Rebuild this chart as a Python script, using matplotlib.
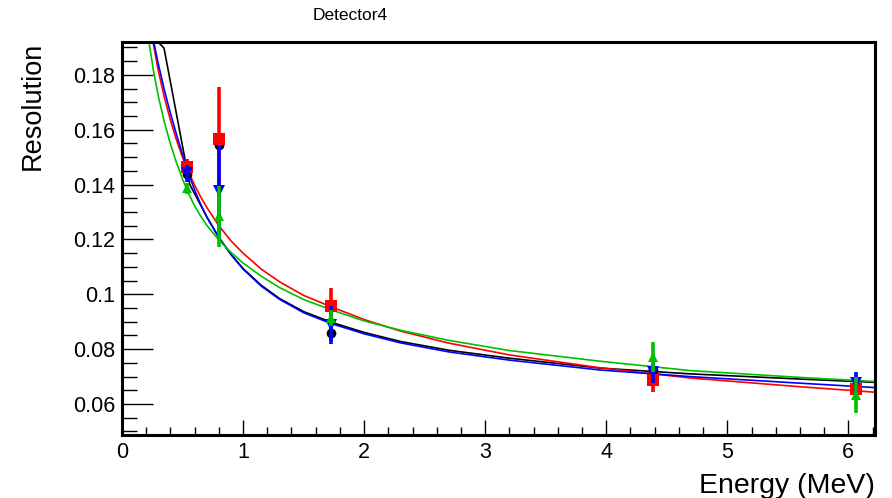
import matplotlib
matplotlib.use("Agg")
import matplotlib.pyplot as plt
from matplotlib.ticker import MultipleLocator

plt.rcParams['font.family'] = ['Liberation Sans', 'DejaVu Sans']

# ---- data ----
energies = [0.54, 0.80, 1.73, 4.39, 6.06]

red_res = [0.1463, 0.1565, 0.0958, 0.0688, 0.0655]
red_err = [0.0030, 0.0190, 0.0066, 0.0044, 0.0022]
black_res = [0.1440, 0.1543, 0.0860, 0.0725, 0.0665]
black_err = [0.0020, 0.0020, 0.0030, 0.0020, 0.0020]
blue_res = [0.1441, 0.1375, 0.0889, 0.0717, 0.0677]
blue_err = [0.0030, 0.0170, 0.0070, 0.0040, 0.0040]
green_res = [0.1386, 0.1284, 0.0914, 0.0772, 0.0633]
green_err = [0.0020, 0.0110, 0.0030, 0.0055, 0.0065]

# fitted curves
green_fit_e = [0.223, 0.26, 0.30, 0.35, 0.40, 0.45, 0.50, 0.55, 0.60, 0.65, 0.70, 0.80,
               0.90, 1.00, 1.15, 1.30, 1.50, 1.73, 2.00, 2.30, 2.70, 3.20, 3.95, 4.69,
               5.60, 6.22]
green_fit_r = [0.1920, 0.1815, 0.1722, 0.1628, 0.1548, 0.1480, 0.1420, 0.1368, 0.1322,
               0.1285, 0.1252, 0.1198, 0.1153, 0.1114, 0.1066, 0.1025, 0.0981, 0.0943,
               0.0903, 0.0869, 0.0832, 0.0795, 0.0756, 0.0722, 0.0697, 0.0682]
red_fit_e = [0.256, 0.30, 0.35, 0.40, 0.45, 0.50, 0.55, 0.60, 0.65, 0.70, 0.80, 0.90,
             1.00, 1.15, 1.30, 1.50, 1.73, 2.00, 2.30, 2.70, 3.20, 3.95, 4.69, 5.60, 6.22]
red_fit_r = [0.1920, 0.1815, 0.1718, 0.1635, 0.1563, 0.1500, 0.1446, 0.1398, 0.1355,
             0.1317, 0.1250, 0.1195, 0.1150, 0.1092, 0.1046, 0.0996, 0.0954, 0.0908,
             0.0866, 0.0822, 0.0779, 0.0732, 0.0695, 0.0663, 0.0643]
blue_fit_e = [0.262, 0.30, 0.35, 0.40, 0.45, 0.50, 0.55, 0.60, 0.65, 0.70, 0.80, 0.90,
              1.00, 1.15, 1.30, 1.50, 1.73, 2.00, 2.30, 2.70, 3.20, 3.95, 4.69, 5.60, 6.22]
blue_fit_r = [0.1920, 0.1840, 0.1745, 0.1660, 0.1583, 0.1510, 0.1440, 0.1380, 0.1328,
              0.1283, 0.1207, 0.1145, 0.1092, 0.1030, 0.0982, 0.0933, 0.0893, 0.0856,
              0.0823, 0.0790, 0.0760, 0.0724, 0.0700, 0.0676, 0.0660]
black_fit_e = [0.10, 0.347, 0.56, 0.65, 0.70, 0.80, 0.90, 1.00, 1.15, 1.30, 1.50, 1.73,
               2.00, 2.30, 2.70, 3.20, 3.95, 4.69, 5.60, 6.22]
black_fit_r = [0.2007, 0.1898, 0.1400, 0.1325, 0.1282, 0.1207, 0.1146, 0.1094, 0.1033,
               0.0985, 0.0937, 0.0898, 0.0861, 0.0828, 0.0796, 0.0767, 0.0731, 0.0710,
               0.0691, 0.0679]

title = "Detector4"
xlabel = "Energy (MeV)"
ylabel = "Resolution"

# ---- figure ----
fig = plt.figure(figsize=(8.92, 4.98), dpi=100)
ax = fig.add_axes([122/892, 63/498, (875-122)/892, (435-42)/498])

cols = {'black': '#000000', 'red': '#ff0000', 'blue': '#0000ff', 'green': '#00c000'}

ax.plot(black_fit_e, black_fit_r, color=cols['black'], lw=1.2, zorder=2)
ax.plot(red_fit_e, red_fit_r, color=cols['red'], lw=1.2, zorder=2)
ax.plot(blue_fit_e, blue_fit_r, color=cols['blue'], lw=1.2, zorder=2)
ax.plot(green_fit_e, green_fit_r, color=cols['green'], lw=1.2, zorder=2)

series = [
    (black_res, black_err, 'black', 'o', 7),
    (red_res, red_err, 'red', 's', 8),
    (blue_res, blue_err, 'blue', 'v', 8),
    (green_res, green_err, 'green', '^', 7),
]
for i, (r, e, c, m, ms) in enumerate(series):
    ax.errorbar(energies, r, yerr=e, fmt=m, color=cols[c], ms=ms, mew=0,
                elinewidth=2.6, capsize=0, zorder=3 + i)

ax.set_xlim(0, 6.22)
ax.set_ylim(0.0487, 0.1920)

ax.xaxis.set_major_locator(MultipleLocator(1))
ax.xaxis.set_minor_locator(MultipleLocator(0.2))
ax.yaxis.set_minor_locator(MultipleLocator(0.005))
ax.set_yticks([0.06, 0.08, 0.10, 0.12, 0.14, 0.16, 0.18])
ax.set_yticklabels(['0.06', '0.08', '0.1', '0.12', '0.14', '0.16', '0.18'])

ax.tick_params(axis='both', which='both', direction='in', top=False, right=False,
               labelsize=15.5, width=1, colors='black')
ax.tick_params(axis='y', which='major', length=22, pad=5)
ax.tick_params(axis='y', which='minor', length=11)
ax.tick_params(axis='x', which='major', length=11, pad=5)
ax.tick_params(axis='x', which='minor', length=6)

for s in ax.spines.values():
    s.set_linewidth(2.2)

fig.text(350/892, 1 - 15/498, title, ha='center', va='center', fontsize=12.5)
fig.text(33/892, 1 - 42/498, ylabel, rotation=90, ha='center', va='top', fontsize=19.5)
fig.text(875/892, 5/498, xlabel, ha='right', va='baseline', fontsize=20.5)

fig.savefig("out.png", dpi=100)
